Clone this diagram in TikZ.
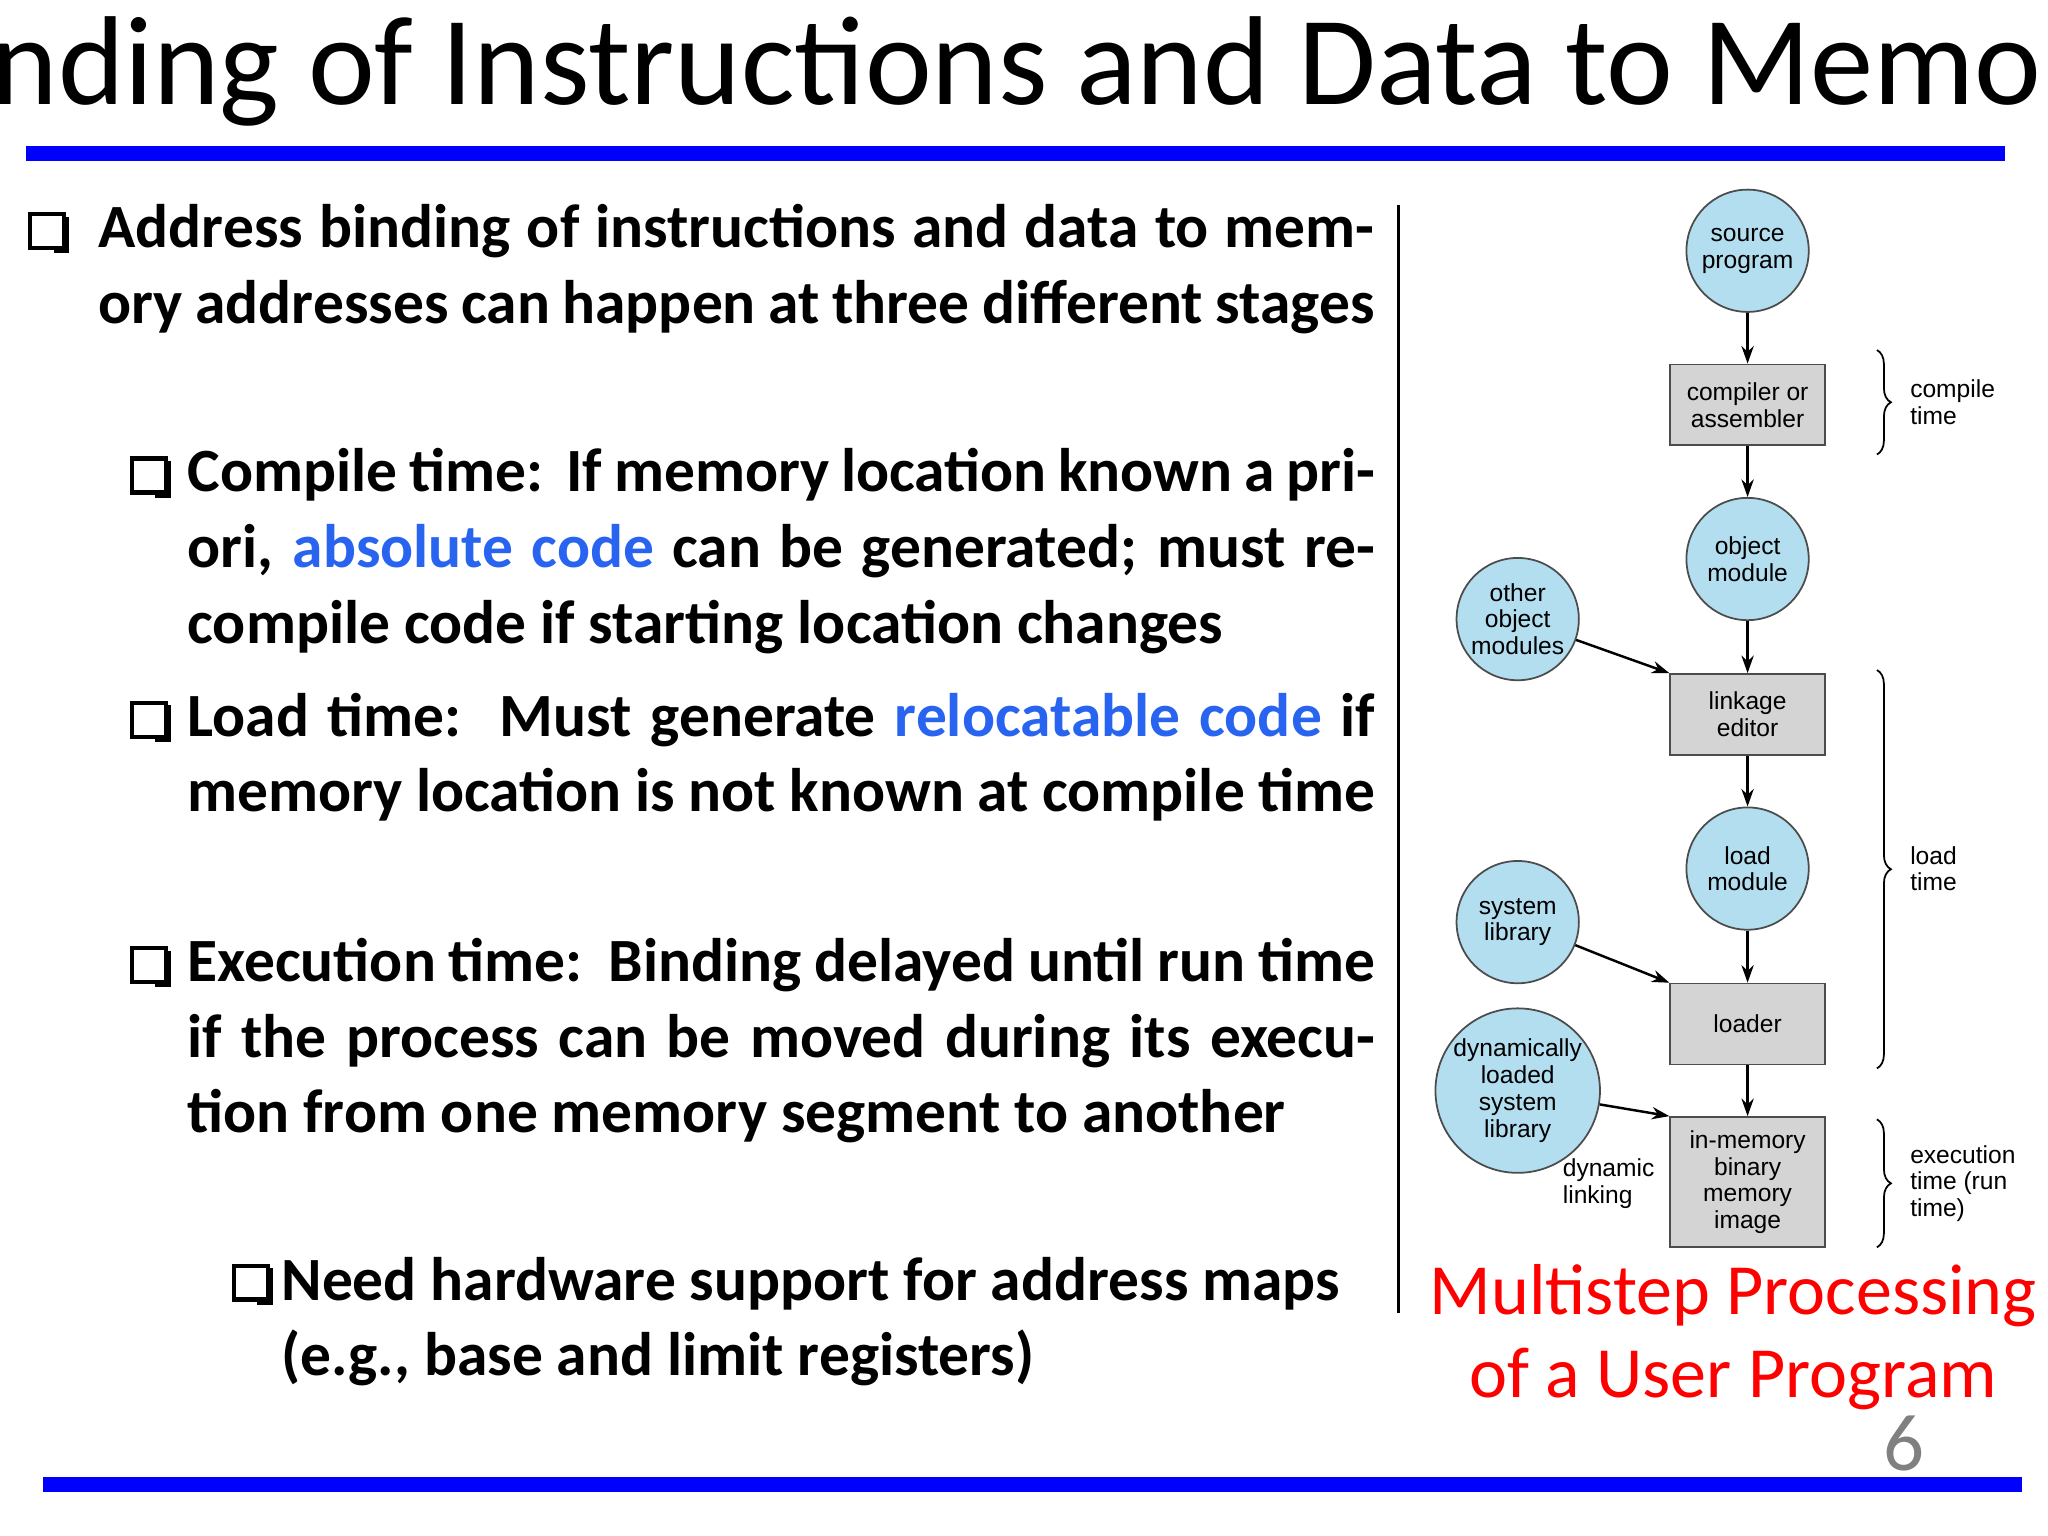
\documentclass[tikz,border=0pt]{standalone}
\usepackage{fontspec}
\setmainfont{Carlito}
\newfontfamily\diag{Liberation Sans}
\usetikzlibrary{decorations.pathreplacing,arrows.meta}
\definecolor{lblue}{RGB}{178,222,240}
\definecolor{lgray}{RGB}{212,212,212}
\definecolor{hblue}{RGB}{40,100,240}
\begin{document}
\begin{tikzpicture}[x=0.013061cm,y=-0.013061cm,
  circ/.style={circle,draw=black!70,fill=lblue,line width=0.5pt,minimum size=34.8pt,inner sep=0pt,align=center,font=\diag\fontsize{7}{7.6}\selectfont},
  box/.style={rectangle,draw=black!70,fill=lgray,line width=0.5pt,minimum width=44pt,minimum height=23pt,inner sep=0pt,align=center,font=\diag\fontsize{7}{7.6}\selectfont},
  arr/.style={-{Stealth[length=5pt,width=3.5pt]},line width=0.7pt},
  lbl/.style={font=\diag\fontsize{7}{7.6}\selectfont,align=left,anchor=west,inner sep=0pt},
  br/.style={decorate,decoration={brace,amplitude=4pt},line width=0.5pt},
  para/.style={anchor=north west,inner sep=0pt,align=justify,font=\bfseries\fontsize{17.5}{21.5}\selectfont}]
\useasboundingbox (0,0) rectangle (1568,1176);
\newcommand{\qbox}[2]{\fill[black] (#1+4,#2-12) rectangle (#1+16,#2+16);
  \fill[white] (#1-14,#2-14) rectangle (#1+12,#2+12);
  \draw[line width=1.2pt] (#1-14,#2-14) rectangle (#1+12,#2+12);}
% title
\node[anchor=center,inner sep=0pt,font=\fontsize{36}{40}\selectfont] (title) at (780,55) {Binding of Instructions and Data to Memory};
\fill[blue] (20,112) rectangle (1535,123);
\fill[blue] (33,1131) rectangle (1548,1142);
\node[text=gray,font=\fontsize{23}{25}\selectfont,inner sep=0pt] (pg) at (1458,1105) {6};
\draw[line width=0.8pt] (1071,157) -- (1071,1005);
% bullets
\qbox{37}{178}
\qbox{115}{365}
\qbox{115}{552}
\qbox{115}{740}
\qbox{193}{983}
\node[para,text width=363pt] (p1) at (75,156) {Address binding of instructions and data to memory addresses can happen at three different stages};
\node[para,text width=338pt] (p2) at (143,343) {Compile time:\ \ If memory location known a priori, \textcolor{hblue}{absolute code} can be generated; must recompile code if starting location changes};
\node[para,text width=338pt] (p3) at (143,530) {Load time:\ \ Must generate \textcolor{hblue}{relocatable code} if memory location is not known at compile time};
\node[para,text width=338pt] (p4) at (143,718) {Execution time:\ \ Binding delayed until run time if the process can be moved during its execution from one memory segment to another};
\node[para,text width=312pt] (p5) at (215,962) {Need hardware support for address maps\\(e.g., base and limit registers)};
% diagram
\node[circ] (src) at (1338,192) {source\\program};
\node[box] (comp) at (1338,310) {compiler or\\assembler};
\node[circ] (obj) at (1338,428) {object\\module};
\node[circ] (oth) at (1162,474) {other\\object\\modules};
\node[box] (link) at (1338,547) {linkage\\editor};
\node[circ] (ld) at (1338,665) {load\\module};
\node[circ] (sys) at (1162,706) {system\\library};
\node[box] (loader) at (1338,784) {loader};
\node[circ,minimum size=42pt] (dyn) at (1162,835) {dynamically\\loaded\\system\\library};
\node[box,minimum height=37pt] (img) at (1338,905) {in-memory\\binary\\memory\\image};
\draw[arr] (src) -- (comp);
\draw[arr] (comp) -- (obj);
\draw[arr] (obj) -- (link);
\draw[arr] (link) -- (ld);
\draw[arr] (ld) -- (loader);
\draw[arr] (loader) -- (img);
\draw[arr] (oth) -- (link.north west);
\draw[arr] (sys) -- (loader.north west);
\draw[arr] (dyn) -- (img.north west);
\node[lbl] (dl) at (1196,906) {dynamic\\linking};
\coordinate (c1) at (1437,268); \coordinate (c2) at (1437,348);
\coordinate (l1) at (1437,513); \coordinate (l2) at (1437,818);
\coordinate (e1) at (1437,857); \coordinate (e2) at (1437,955);
\draw[br] (c1) -- (c2);
\draw[br] (l1) -- (l2);
\draw[br] (e1) -- (e2);
\node[lbl] (ct) at (1462,308) {compile\\time};
\node[lbl] (lt) at (1462,665) {load\\time};
\node[lbl] (et) at (1462,906) {execution\\time (run\\time)};
\node[text=red,align=center,font=\fontsize{20.5}{23.5}\selectfont,inner sep=0pt] (cap) at (1327,1024) {Multistep Processing\\of a User Program};
\end{tikzpicture}
\end{document}
